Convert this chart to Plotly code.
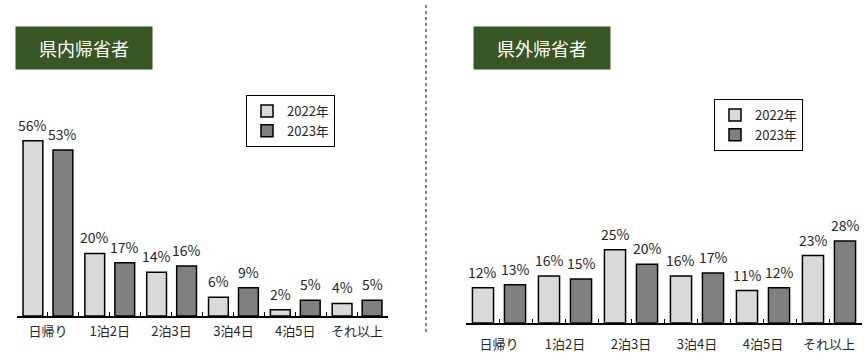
import plotly.graph_objects as go

categories = ["日帰り", "1泊2日", "2泊3日", "3泊4日", "4泊5日", "それ以上"]
series_names = ["2022年", "2023年"]
kennai_2022 = [56, 20, 14, 6, 2, 4]
kennai_2023 = [53, 17, 16, 9, 5, 5]
kengai_2022 = [12, 16, 25, 16, 11, 23]
kengai_2023 = [13, 15, 20, 17, 12, 28]
panel_titles = ["県内帰省者", "県外帰省者"]

W, H = 868, 361
FONT = "Noto Sans CJK JP"
C22 = "#d9d9d9"
C23 = "#808080"
GREEN = "#375623"
BARGAP = 0.03
GROUPGAP = 0.34

xs = list(range(len(categories)))

fig = go.Figure()

panels = [
    (kennai_2022, kennai_2023, "x", "y", "legend"),
    (kengai_2022, kengai_2023, "x2", "y2", "legend2"),
]
for v22, v23, xa, ya, lg in panels:
    for name, vals, col in ((series_names[0], v22, C22), (series_names[1], v23, C23)):
        fig.add_trace(go.Bar(
            x=xs, y=vals, name=name, xaxis=xa, yaxis=ya, legend=lg,
            marker=dict(color=col, line=dict(color="black", width=1.5)),
            hoverinfo="skip",
        ))

# data labels
off = (1 - BARGAP) / 4
annotations = []
for v22, v23, xa, ya, _ in panels:
    for sgn, vals in ((-1, v22), (1, v23)):
        for i, v in zip(xs, vals):
            annotations.append(dict(
                x=i + sgn * off, y=v, xref=xa, yref=ya, text=f"{v}%",
                showarrow=False, yanchor="bottom", yshift=4,
                font=dict(family=FONT, size=14, color="#262626"),
            ))

# panel titles
for cx, cy, t in ((84, 48, panel_titles[0]), (542, 48.5, panel_titles[1])):
    annotations.append(dict(
        x=cx / W, y=1 - cy / H, xref="paper", yref="paper", text=t,
        showarrow=False, xanchor="center", yanchor="middle",
        width=134, height=40, bgcolor=GREEN,
        font=dict(family=FONT, size=18, color="white"),
    ))

fig.update_layout(annotations=annotations)

fig.add_shape(type="line", xref="paper", yref="paper",
              x0=426 / W, x1=426 / W, y0=1 - 5 / H, y1=1 - 333 / H,
              line=dict(color="#595959", width=1.5, dash="dot"))

bounds = [i - 0.5 for i in range(len(categories) + 1)]


def xaxis_cfg(domain, standoff, anchor):
    return dict(
        domain=domain, range=[-0.5, len(categories) - 0.5], anchor=anchor,
        tickmode="array", tickvals=xs, ticktext=categories,
        ticks="inside", ticklen=4, tickcolor="black", tickwidth=1,
        minor=dict(tickmode="array", tickvals=bounds, ticks="inside",
                   ticklen=4, tickcolor="black", tickwidth=1),
        showline=True, linecolor="black", linewidth=1.5,
        showgrid=False, zeroline=False, fixedrange=True,
        tickfont=dict(family=FONT, size=13, color="#262626"),
        ticklabelstandoff=standoff,
    )


legend_common = dict(xanchor="left", yanchor="top",
                     bordercolor="black", borderwidth=1, bgcolor="white",
                     font=dict(family=FONT, size=13, color="#262626"),
                     tracegroupgap=0, itemwidth=30)

fig.update_layout(
    width=W, height=H,
    margin=dict(l=0, r=0, t=0, b=0),
    paper_bgcolor="white", plot_bgcolor="white",
    barmode="group", bargap=BARGAP, bargroupgap=GROUPGAP,
    font=dict(family=FONT, size=13, color="#262626"),
    xaxis=xaxis_cfg([17 / W, 388 / W], 3, "y"),
    yaxis=dict(domain=[1 - 316 / H, 1 - (316 - 60 * 3.13) / H], range=[0, 60],
               anchor="x", visible=False, fixedrange=True),
    xaxis2=xaxis_cfg([466 / W, 862 / W], 9, "y2"),
    yaxis2=dict(domain=[1 - 322.7 / H, 1 - (322.7 - 30 * 2.92) / H], range=[0, 30],
                anchor="x2", visible=False, fixedrange=True),
    legend=dict(x=246 / W, y=1 - 95 / H, **legend_common),
    legend2=dict(x=714 / W, y=1 - 99 / H, **legend_common),
)

fig.write_html("out.html",
               config={"displayModeBar": False},
               post_script="document.body.style.margin='0px';document.body.style.overflow='hidden';")
